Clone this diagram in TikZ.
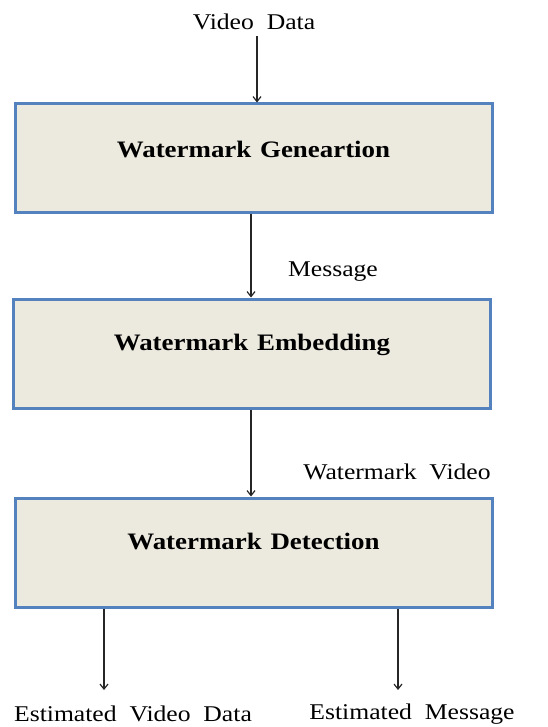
\documentclass[tikz,border=0pt]{standalone}
\usepackage{fontspec}
\setmainfont[FakeStretch=1.14,WordSpace=2,BoldFeatures={WordSpace=1.3}]{Liberation Serif}
\usetikzlibrary{arrows.meta}
\definecolor{boxfill}{RGB}{236,233,223}
\definecolor{boxline}{RGB}{84,130,190}
\tikzset{
  stage/.style={draw=boxline, line width=3pt, fill=boxfill, minimum width=477pt,
    minimum height=109pt, inner sep=0pt, font=\fontsize{23.6}{27}\selectfont\bfseries,
    text height=16pt, text depth=22pt},
  lbl/.style={font=\fontsize{22.5}{26}\selectfont, inner sep=0pt},
  arr/.style={draw=black!85, line width=1.2pt, -{Straight Barb[length=5pt,width=8pt]}}
}
\begin{document}
\begin{tikzpicture}[x=1pt,y=-1pt]
\useasboundingbox (0,0) rectangle (547,727);
\node[stage, text depth=17pt] (b1) at (253.5,158.5) {Watermark Geneartion};
\node[stage] (b2) at (252,353.5) {Watermark Embedding};
\node[stage] (b3) at (253.5,552.5) {Watermark Detection};
\node[lbl] (vd) at (254,22) {Video Data};
\node[lbl] (msg) at (333,272) {Message};
\node[lbl] (wv) at (397,472) {Watermark Video};
\node[lbl] (evd) at (133,714) {Estimated Video Data};
\node[lbl] (em) at (412,714) {Estimated Message};
\coordinate (a0) at (257,36);
\coordinate (a1) at (251,0);
\coordinate (e1) at (104,690);
\coordinate (e2) at (398,690);
\draw[arr] (a0) -- (a0 |- b1.north);
\draw[arr] (b1.south -| a1) -- (b2.north -| a1);
\draw[arr] (b2.south -| a1) -- (b3.north -| a1);
\draw[arr] (b3.south -| e1) -- (e1);
\draw[arr] (b3.south -| e2) -- (e2);
\end{tikzpicture}
\end{document}
